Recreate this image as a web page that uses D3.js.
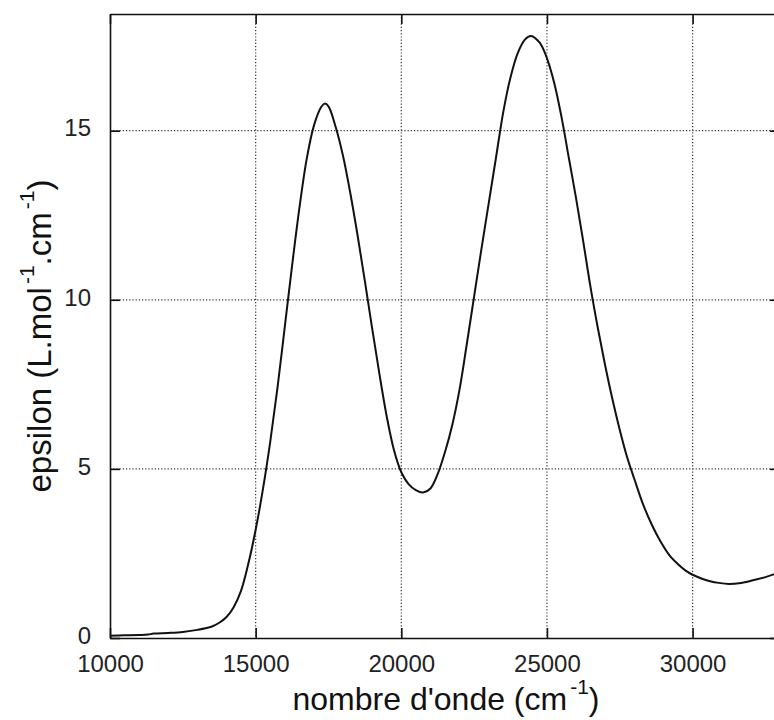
<!DOCTYPE html>
<html><head><meta charset="utf-8">
<script src="https://cdn.jsdelivr.net/npm/d3@7"></script>
<style>body{margin:0;background:#fff;overflow:hidden}</style>
</head><body><svg id="c" width="774" height="720"></svg>
<script>
const wavenumber = [10000,10500,11000,11300,11500,12000,12500,13000,13500,13750,14000,14250,14500,14750,15000,15250,15500,15750,16000,16250,16500,16750,17000,17250,17375,17500,17750,18000,18250,18500,18750,19000,19250,19500,19750,20000,20250,20500,20750,21000,21250,21500,21750,22000,22250,22500,22750,23000,23250,23500,23750,24000,24250,24450,24750,25000,25250,25500,25750,26000,26250,26500,26750,27000,27250,27500,27750,28000,28300,28600,28900,29200,29500,29750,30000,30300,30600,30900,31250,31600,32000,32500,33000];
const epsilon = [0.07,0.08,0.09,0.1,0.13,0.15,0.18,0.24,0.34,0.45,0.62,0.92,1.4,2.2,3.2,4.4,5.8,7.4,9.2,11.0,12.7,14.15,15.15,15.7,15.8,15.72,15.1,14.25,13.15,11.9,10.55,9.15,7.8,6.55,5.55,4.9,4.55,4.37,4.3,4.42,4.85,5.5,6.3,7.35,8.7,10.1,11.5,12.85,14.2,15.55,16.58,17.3,17.7,17.8,17.6,17.14,16.41,15.4,14.2,13.0,11.7,10.35,9.15,8.05,7.05,6.15,5.35,4.7,3.95,3.35,2.85,2.45,2.18,2.0,1.87,1.76,1.68,1.63,1.6,1.62,1.69,1.8,1.95];
const xTicks = [10000,15000,20000,25000,30000];
const yTicks = [0,5,10,15];
const xDomain = [10000,33000];
const yDomain = [0,18.45];

const svg = d3.select("#c");
const M = {left:110, right:780, top:14, bottom:638};
const x = d3.scaleLinear().domain(xDomain).range([M.left, M.right]);
const y = d3.scaleLinear().domain(yDomain).range([M.bottom, M.top]);
const font = "Liberation Sans, Arial, Helvetica, sans-serif";

// grid
const grid = svg.append("g").attr("stroke","#333").attr("stroke-width",1.2).attr("stroke-dasharray","1.2,2");
grid.selectAll(".gx").data(xTicks.filter(d=>d>xDomain[0])).join("line")
  .attr("x1",d=>x(d)).attr("x2",d=>x(d)).attr("y1",y.range()[1]).attr("y2",y.range()[0]);
grid.selectAll(".gy").data(yTicks.filter(d=>d>yDomain[0])).join("line")
  .attr("y1",d=>y(d)).attr("y2",d=>y(d)).attr("x1",x.range()[0]).attr("x2",x.range()[1]);

function styleAxis(g){
  g.selectAll("path.domain").attr("stroke","#111").attr("stroke-width",1.6);
  g.selectAll(".tick line").attr("stroke","#111").attr("stroke-width",1.6);
  g.selectAll(".tick text").attr("font-family",font).attr("font-size","24px").attr("fill","#222");
}
svg.append("g").attr("transform",`translate(0,${M.bottom})`)
  .call(d3.axisBottom(x).tickValues(xTicks).tickSize(-10).tickSizeOuter(0).tickPadding(17).tickFormat(d3.format("d")))
  .call(styleAxis);
svg.append("g").attr("transform",`translate(0,${M.top})`)
  .call(d3.axisTop(x).tickValues(xTicks).tickSize(-10).tickSizeOuter(0).tickFormat(""))
  .call(styleAxis);
svg.append("g").attr("transform",`translate(${M.left},0)`)
  .call(d3.axisLeft(y).tickValues(yTicks).tickSize(-10).tickSizeOuter(0).tickPadding(19).tickFormat(d3.format("d")))
  .call(styleAxis)
  .selectAll(".tick text").attr("dy","0.22em");
svg.append("g").attr("transform",`translate(${M.right},0)`)
  .call(d3.axisRight(y).tickValues(yTicks).tickSize(-10).tickSizeOuter(0).tickFormat(""))
  .call(styleAxis);

// curve
svg.append("defs").append("clipPath").attr("id","clip").append("rect")
  .attr("x",M.left).attr("y",M.top).attr("width",M.right-M.left).attr("height",M.bottom-M.top);
const pts = wavenumber.map((w,i)=>[w,epsilon[i]]);
svg.append("path").datum(pts).attr("clip-path","url(#clip)")
  .attr("fill","none").attr("stroke","#111").attr("stroke-width",2)
  .attr("d", d3.line().x(d=>x(d[0])).y(d=>y(d[1])).curve(d3.curveCatmullRom.alpha(0.5)));

// x label
const xl = svg.append("text").attr("x",446).attr("y",710).attr("text-anchor","middle")
  .attr("font-family",font).attr("font-size","32px").attr("fill","#111");
xl.append("tspan").text("nombre d'onde (cm");
xl.append("tspan").attr("font-size","21px").attr("dx","3").attr("dy","-16").text("-1");
xl.append("tspan").attr("dy","16").text(")");

// y label
const yl = svg.append("text").attr("transform","translate(51,336) rotate(-90)").attr("text-anchor","middle")
  .attr("font-family",font).attr("font-size","33px").attr("fill","#111");
yl.append("tspan").text("epsilon (L.mol");
yl.append("tspan").attr("font-size","21px").attr("dx","3").attr("dy","-17").text("-1");
yl.append("tspan").attr("dy","17").text(".cm");
yl.append("tspan").attr("font-size","21px").attr("dx","3").attr("dy","-17").text("-1");
yl.append("tspan").attr("dy","17").text(")");
</script></body></html>
